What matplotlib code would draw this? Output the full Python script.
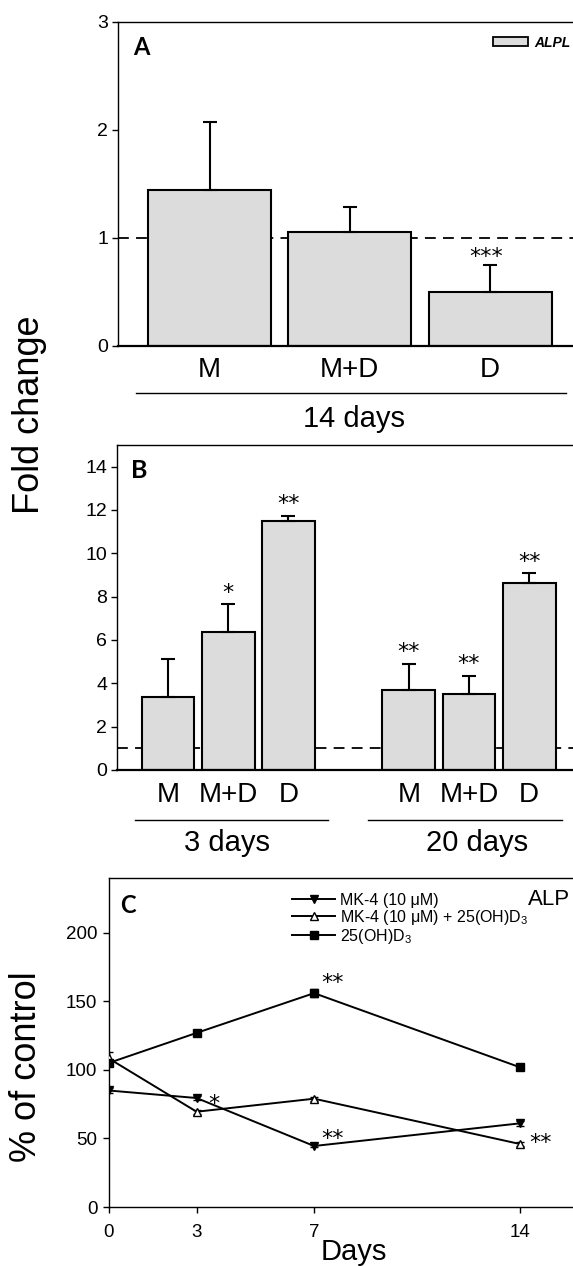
import matplotlib
matplotlib.use("Agg")
import matplotlib.pyplot as plt
import matplotlib.transforms as mtransforms
from matplotlib.patches import Patch
from matplotlib.lines import Line2D
import numpy as np

plt.rcParams['font.family'] = ['Liberation Sans', 'DejaVu Sans']
plt.rcParams['mathtext.default'] = 'regular'

# ---------- data ----------
a_labels = ["M", "M+D", "D"]
a_values = [1.44, 1.06, 0.50]
a_errors = [0.63, 0.23, 0.25]
a_stars = ["", "", "***"]

b_labels = ["M", "M+D", "D", "M", "M+D", "D"]
b_groups = ["3 days", "20 days"]
b_values = [3.38, 6.38, 11.48, 3.70, 3.52, 8.64]
b_errors = [1.74, 1.28, 0.26, 1.20, 0.83, 0.44]
b_stars = ["", "*", "**", "**", "**", "**"]

c_days = [0, 3, 7, 14]
c_mk4 = [85, 79.5, 44.5, 61]
c_mk4_err = [1.5, 1.5, 1.0, 2.0]
c_mk4_d3 = [108.5, 69.5, 79, 46]
c_mk4_d3_err = [4.5, 1.5, 1.5, 1.5]
c_d3 = [105, 127, 156, 102]
c_d3_err = [2.0, 1.5, 3.0, 1.5]

W, H = 573, 1266
fig = plt.figure(figsize=(W / 100, H / 100), dpi=100)

def axpos(l, t, r, b):
    return [l / W, 1 - b / H, (r - l) / W, (b - t) / H]

BAR_FC = "#dcdcdc"
RIGHT = 600
STAR_FS = 16

def star(ax, x, y, s):
    # y = desired visual centre of the asterisk glyphs
    ax.annotate(s, xy=(x, y), xytext=(0, -0.585 * STAR_FS), textcoords="offset points",
                ha="center", va="baseline", fontsize=STAR_FS, family="DejaVu Sans")

def style_bar_axes(ax, ylab):
    for s in ["top", "left", "bottom", "right"]:
        ax.spines[s].set_linewidth(1.0)
    ax.spines["bottom"].set_linewidth(1.6)
    ax.tick_params(axis='y', direction='out', length=4, width=1, labelsize=ylab, pad=3)
    ax.tick_params(axis='x', length=0, labelsize=20, pad=8)

# ---------- Panel A ----------
axA = fig.add_axes(axpos(118, 22, RIGHT, 346))
xa = np.arange(len(a_values))
pA = 140.3
axA.axhline(1, color="black", lw=1.3, ls=(0, (6, 4)), zorder=1)
axA.bar(xa, a_values, width=0.877, color=BAR_FC, edgecolor="black", linewidth=1.5, zorder=2)
axA.errorbar(xa, a_values, yerr=[np.zeros(3), a_errors], fmt="none", ecolor="black",
             elinewidth=1.5, capsize=5, capthick=1.5, zorder=3)
star(axA, 1.97, 0.889, a_stars[2])
axA.set_xlim((118 - 209.5) / pA, (RIGHT - 209.5) / pA)
axA.set_ylim(0, 3)
axA.set_yticks([0, 1, 2, 3])
axA.set_xticks(xa)
axA.set_xticklabels(a_labels)
style_bar_axes(axA, 14)
axA.text(0.031, 0.898, "A", transform=axA.transAxes, fontsize=17, fontweight="bold",
         family="Lato", va="baseline", ha="left")
axA.legend(handles=[Patch(facecolor=BAR_FC, edgecolor="black", linewidth=1.3)],
           labels=["ALPL"], loc="upper left", bbox_to_anchor=((493 - 118) / (RIGHT - 118), 0.958),
           frameon=False, prop={"style": "italic", "weight": "bold", "size": 10},
           handlelength=2.5, handleheight=0.6, handletextpad=0.5, borderaxespad=0, borderpad=0)
transA = mtransforms.blended_transform_factory(axA.transData, axA.transAxes)
axA.plot([-0.524, 2.54], [-0.145, -0.145], color="black", lw=1, transform=transA, clip_on=False)
axA.text(1.03, -0.225, "14 days", transform=transA, ha="center", va="center", fontsize=21)

# ---------- Panel B ----------
axB = fig.add_axes(axpos(117, 445, RIGHT, 770))
xb = np.array([0, 1, 2, 4, 5, 6])
pB = 60.2
axB.axhline(1, color="black", lw=1.3, ls=(0, (6, 4)), zorder=1)
axB.bar(xb, b_values, width=0.88, color=BAR_FC, edgecolor="black", linewidth=1.5, zorder=2)
axB.errorbar(xb, b_values, yerr=[np.zeros(6), b_errors], fmt="none", ecolor="black",
             elinewidth=1.5, capsize=5, capthick=1.5, zorder=3)
for xi, v, e, s in zip(xb, b_values, b_errors, b_stars):
    if s:
        star(axB, xi, v + e + 0.85, s)
axB.set_xlim((117 - 168) / pB, (RIGHT - 168) / pB)
axB.set_ylim(0, 15)
axB.set_yticks(np.arange(0, 15, 2))
axB.set_xticks(xb)
axB.set_xticklabels(b_labels)
style_bar_axes(axB, 14)
axB.tick_params(axis='x', pad=9)
axB.text(0.030, 0.898, "B", transform=axB.transAxes, fontsize=18, fontweight="bold",
         family="Lato", va="baseline", ha="left")
transB = mtransforms.blended_transform_factory(axB.transData, axB.transAxes)
axB.plot([-0.548, 2.658], [-0.155, -0.155], color="black", lw=1, transform=transB, clip_on=False)
axB.plot([3.32, 6.545], [-0.155, -0.155], color="black", lw=1, transform=transB, clip_on=False)
axB.text(0.973, -0.225, b_groups[0], transform=transB, ha="center", va="center", fontsize=21)
axB.text(5.13, -0.225, b_groups[1], transform=transB, ha="center", va="center", fontsize=21)

# ---------- Panel C ----------
axC = fig.add_axes(axpos(108.5, 878, RIGHT, 1207))
kw = dict(color="black", lw=1.4, ms=6, capsize=3, elinewidth=1, capthick=1)
axC.errorbar(c_days, c_mk4, yerr=c_mk4_err, marker="v", mfc="black", mec="black", zorder=3, **kw)
axC.errorbar(c_days, c_mk4_d3, yerr=c_mk4_d3_err, marker="^", mfc="white", mec="black",
             mew=1, zorder=3, **kw)
axC.errorbar(c_days, c_d3, yerr=c_d3_err, marker="s", mfc="black", mec="black", zorder=3, **kw)
star(axC, 7.63, 168.6, "**")
star(axC, 3.59, 80, "*")
star(axC, 7.63, 54.7, "**")
star(axC, 14.72, 51.8, "**")
axC.set_xlim(0, (RIGHT - 108.5) / 29.37)
axC.set_ylim(0, 240)
axC.set_xticks(c_days)
axC.set_yticks([0, 50, 100, 150, 200])
for s in ["top", "left", "bottom", "right"]:
    axC.spines[s].set_linewidth(1.0)
axC.tick_params(axis='both', direction='out', length=4, width=1, labelsize=13.5, pad=4)
axC.tick_params(axis='x', pad=8)
axC.text(0.023, 0.894, "C", transform=axC.transAxes, fontsize=17, fontweight="bold",
         family="Lato", va="baseline", ha="left")
axC.text(0.8535, 0.918, "ALP", transform=axC.transAxes, fontsize=16, va="baseline", ha="left")
handles = [
    Line2D([], [], color="black", lw=1.4, marker="v", ms=6, mfc="black", mec="black"),
    Line2D([], [], color="black", lw=1.4, marker="^", ms=6, mfc="white", mec="black", mew=1),
    Line2D([], [], color="black", lw=1.4, marker="s", ms=6, mfc="black", mec="black"),
]
labels = ["MK-4 (10 \u03bcM)", "MK-4 (10 \u03bcM) + 25(OH)D$_3$", "25(OH)D$_3$"]
axC.legend(handles, labels, loc="upper left", bbox_to_anchor=((292 - 108.5) / (RIGHT - 108.5), 0.955),
           frameon=False, fontsize=11.5, handlelength=2.7, handletextpad=0.3,
           labelspacing=0.0, borderaxespad=0, borderpad=0)
axC.set_xlabel("Days", fontsize=21, labelpad=-2)

# ---------- shared y labels ----------
fig.text(30 / W, 1 - 415 / H, "Fold change", rotation=90, fontsize=26, ha="center", va="center")
fig.text(27 / W, 1 - 1067 / H, "% of control", rotation=90, fontsize=26, ha="center", va="center")

fig.savefig("out.png", dpi=100)
